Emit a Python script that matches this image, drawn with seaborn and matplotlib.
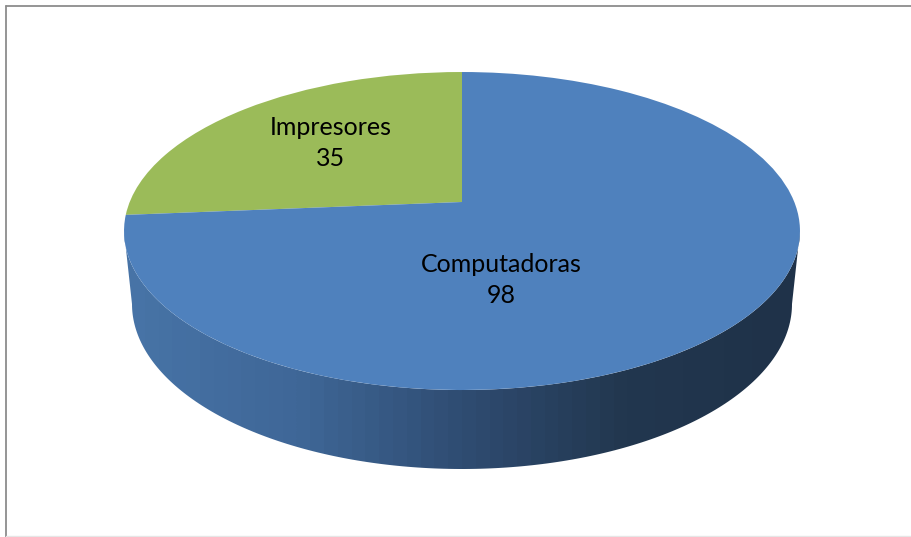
import numpy as np
import matplotlib
matplotlib.use("Agg")
import matplotlib.pyplot as plt
from matplotlib.colors import ListedColormap
from matplotlib.patches import Polygon
from matplotlib.transforms import Transform
import seaborn as sns

# -----------------------------
# Data
# -----------------------------
categories = ["Impresores", "Computadoras"]
values = [35, 98]

# -----------------------------
# Style
# -----------------------------
sns.set_theme(style="white")
plt.rcParams["font.family"] = ["Lato", "DejaVu Sans"]

slice_colors = ["#9BBB59", "#4F81BD"]
wall_colors = sns.blend_palette(
    ["#4773A6", "#3F6797", "#2F4C72", "#22374F", "#1F3249"], 48
)

W, H = 911, 537
CX, APEX_Y = 462, 202
A, B, K = 332.3, 153.7, 0.1824  # tilted disc seen in perspective


class TiltedDisc(Transform):
    """Maps the unit pie circle on to the tilted disc, in pixels."""

    input_dims = 2
    output_dims = 2

    def transform_non_affine(self, values):
        u, v = values[:, 0], values[:, 1]
        d = 1 + K * v
        return np.column_stack([CX + A * u / d, APEX_Y - B * v / d])


fig = plt.figure(figsize=(W / 100, H / 100), dpi=100, facecolor="white")
ax = fig.add_axes([0, 0, 1, 1])

# -----------------------------
# Pie
# -----------------------------
wedges, _ = ax.pie(
    values,
    colors=slice_colors,
    startangle=90,
    wedgeprops={"linewidth": 0},
)
for w in wedges:
    w.set_transform(TiltedDisc() + ax.transData)
    w.set_zorder(3)

ax.set_aspect("auto")
ax.set_xlim(0, W)
ax.set_ylim(H, 0)
ax.set_axis_off()

# -----------------------------
# Side wall of the disc
# -----------------------------
t = np.linspace(0, np.pi, 200)
top_rim = np.column_stack([462 - 338 * np.cos(t), 231 + 159 * np.sin(t)])
low_rim = np.column_stack([462 + 330 * np.cos(t), 304 + 165 * np.sin(t)])
wall = Polygon(np.vstack([top_rim, low_rim]), closed=True, transform=ax.transData,
               facecolor="none", edgecolor="none")
ax.add_patch(wall)

img = ax.imshow(
    np.linspace(0, 1, 48)[None, :],
    extent=(124, 800, 480, 225),
    cmap=ListedColormap(wall_colors),
    aspect="auto",
    interpolation="bilinear",
    zorder=2,
)
img.set_clip_path(wall)
ax.set_xlim(0, W)
ax.set_ylim(H, 0)

# -----------------------------
# Labels
# -----------------------------
label_pos = [(331, 143), (501, 280)]
for name, val, (x, y) in zip(categories, values, label_pos):
    ax.text(x, y, f"{name}\n{val}", ha="center", va="center", fontsize=18,
            color="black", linespacing=1.45, zorder=5)

# -----------------------------
# Chart frame
# -----------------------------
ax.plot([5.5, 5.5], [5.5, H], color="#8C8C8C", lw=1.3, zorder=1)
ax.plot([5.5, W], [5.5, 5.5], color="#8C8C8C", lw=1.3, zorder=1)
ax.plot([5.5, W], [536, 536], color="#E6E6E6", lw=1, zorder=1)

fig.savefig("out.png", dpi=100)
